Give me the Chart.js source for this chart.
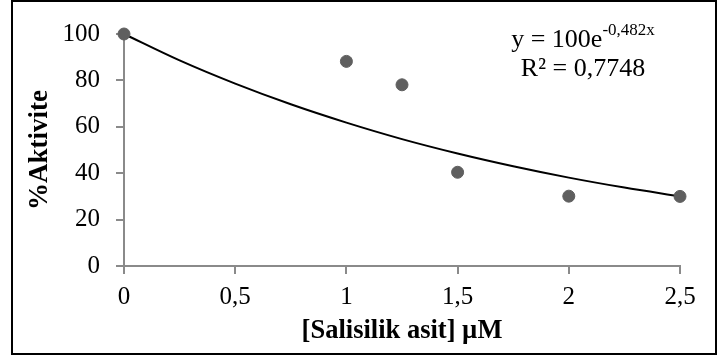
<!DOCTYPE html>
<html>
<head>
<meta charset="utf-8">
<script src="https://cdn.jsdelivr.net/npm/chart.js@4/dist/chart.umd.min.js"></script>
<style>
  html, body { margin: 0; padding: 0; background: #ffffff; }
  #wrap { width: 718px; height: 360px; position: relative; }
</style>
</head>
<body>
<div id="wrap"><canvas id="chart" width="718" height="360"></canvas></div>
<script>
// measured points
const concX = [0, 1, 1.25, 1.5, 2, 2.5];
const activity = [100, 88.2, 78.1, 40.4, 30.1, 30];

// trendline
const trendX = [0, 0.25, 0.5, 0.75, 1, 1.25, 1.5, 1.75, 2, 2.25, 2.5];
const trendY = [100, 88.6, 78.6, 69.7, 61.8, 54.7, 48.5, 43.0, 38.1, 33.8, 30.0];

const xTicks = [0, 0.5, 1, 1.5, 2, 2.5];
const xTickLabels = ['0', '0,5', '1', '1,5', '2', '2,5'];
const yTicks = [0, 20, 40, 60, 80, 100];

const eqMain = 'y = 100e';
const eqSup = '-0,482x';
const r2Text = 'R² = 0,7748';

const SERIF = '"Liberation Serif", "Times New Roman", serif';
const AXIS_GRAY = '#8a8a8a';

Chart.defaults.font.family = SERIF;

const frameAndText = {
    id: 'frameAndText',
    afterDraw(chart) {
        const ctx = chart.ctx;
        ctx.save();
        ctx.strokeStyle = '#000000';
        ctx.lineWidth = 2;
        ctx.strokeRect(12, 1, 704, 353);

        ctx.fillStyle = '#000000';
        ctx.textBaseline = 'alphabetic';
        ctx.textAlign = 'left';
        ctx.font = '26px ' + SERIF;
        const wMain = ctx.measureText(eqMain).width;
        ctx.font = '17px ' + SERIF;
        const wSup = ctx.measureText(eqSup).width;
        const cx = 583;
        const startX = cx - (wMain + wSup) / 2;
        ctx.font = '26px ' + SERIF;
        ctx.fillText(eqMain, startX, 47);
        ctx.font = '17px ' + SERIF;
        ctx.fillText(eqSup, startX + wMain, 35);

        ctx.font = '26px ' + SERIF;
        ctx.textAlign = 'center';
        ctx.fillText(r2Text, cx, 76);
        ctx.restore();
    }
};

new Chart(document.getElementById('chart'), {
    type: 'scatter',
    data: {
        datasets: [
            {
                label: 'Aktivite',
                data: concX.map((x, i) => ({ x: x, y: activity[i] })),
                backgroundColor: '#5f5f5f',
                borderColor: '#5f5f5f',
                pointRadius: 6,
                pointHoverRadius: 6,
                clip: false,
                order: 1,
            },
            {
                label: 'Trend',
                type: 'line',
                data: trendX.map((x, i) => ({ x: x, y: trendY[i] })),
                borderColor: '#000000',
                borderWidth: 2,
                pointRadius: 0,
                tension: 0.4,
                cubicInterpolationMode: 'monotone',
                fill: false,
                clip: false,
                order: 2,
            }
        ]
    },
    options: {
        responsive: false,
        animation: false,
        events: [],
        layout: { padding: { left: 0, right: 38, top: 34, bottom: 0 } },
        plugins: {
            legend: { display: false },
            tooltip: { enabled: false },
        },
        scales: {
            x: {
                type: 'linear',
                min: 0,
                max: 2.5,
                afterBuildTicks: (axis) => { axis.ticks = xTicks.map(v => ({ value: v })); },
                afterFit: (axis) => { axis.height = 94; },
                border: { display: true, color: AXIS_GRAY, width: 2 },
                grid: { display: true, drawOnChartArea: false, drawTicks: true, tickLength: 8, color: AXIS_GRAY, lineWidth: 2 },
                ticks: {
                    color: '#000000',
                    padding: 8,
                    maxRotation: 0,
                    font: { family: SERIF, size: 25 },
                    callback: (v) => xTickLabels[xTicks.indexOf(v)],
                },
                title: {
                    display: true,
                    text: '[Salisilik asit] µM',
                    color: '#000000',
                    font: { family: SERIF, size: 26.5, weight: 'bold' },
                    padding: { top: 0, bottom: 13 },
                },
            },
            y: {
                type: 'linear',
                min: 0,
                max: 100,
                afterBuildTicks: (axis) => { axis.ticks = yTicks.map(v => ({ value: v })); },
                afterFit: (axis) => { axis.width = 124; },
                border: { display: true, color: AXIS_GRAY, width: 2 },
                grid: { display: true, drawOnChartArea: false, drawTicks: true, tickLength: 8, color: AXIS_GRAY, lineWidth: 2 },
                ticks: {
                    color: '#000000',
                    padding: 16,
                    font: { family: SERIF, size: 25 },
                },
                title: {
                    display: true,
                    text: '%Aktivite',
                    color: '#000000',
                    font: { family: SERIF, size: 27, weight: 'bold' },
                    padding: { top: 24, bottom: 0 },
                },
            }
        }
    },
    plugins: [frameAndText]
});
</script>
</body>
</html>
